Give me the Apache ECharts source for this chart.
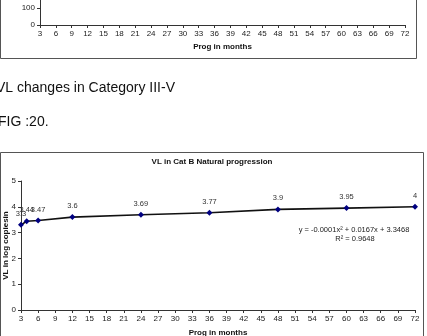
<!DOCTYPE html>
<html><head><meta charset="utf-8">
<script src="https://cdn.jsdelivr.net/npm/echarts@6/dist/echarts.min.js"></script>
<style>html,body{margin:0;padding:0;background:#fff;}#c{width:427px;height:336px;}</style>
</head><body><div id="c"></div>
<script>
// Data
const months = [3, 4, 6, 12, 24, 36, 48, 60, 72];
const vlLog = [3.3, 3.44, 3.47, 3.6, 3.69, 3.77, 3.9, 3.95, 4];
const chartTitle = 'VL in Cat B Natural progression';
const xName = 'Prog in months';
const yName = 'VL in log copiesin';
const trendEq = 'y = -0.0001x\u00B2 + 0.0167x + 3.3468';
const trendR2 = 'R\u00B2 = 0.9648';
const captionA = 'VL changes in Category III-V';
const captionB = 'FIG :20.';

const FF = '"Liberation Sans", Arial, sans-serif';
const axisCol = '#333';
const chart = echarts.init(document.getElementById('c'), null, {renderer: 'canvas'});

const xAxisCommon = {
  type: 'value', min: 3, max: 72, interval: 3,
  axisLine: {lineStyle: {color: axisCol, width: 1}},
  axisTick: {show: true, length: 3, lineStyle: {color: axisCol}},
  axisLabel: {fontFamily: FF, fontSize: 8, color: '#222', margin: 5},
  splitLine: {show: false},
  nameLocation: 'middle', nameMoveOverlap: false,
  nameTextStyle: {fontFamily: FF, fontSize: 8, fontWeight: 'bold', color: '#111'}
};
const yAxisCommon = {
  type: 'value',
  axisLine: {show: true, lineStyle: {color: axisCol, width: 1}},
  axisTick: {show: true, length: 3, lineStyle: {color: axisCol}},
  axisLabel: {fontFamily: FF, fontSize: 8, color: '#222', margin: 5},
  splitLine: {show: false}
};

chart.setOption({
  backgroundColor: '#fff',
  animation: false,
  grid: [
    {left: 40, right: 22, top: 0, height: 25, containLabel: false, outerBoundsMode: 'none'},
    {left: 21, right: 12, top: 181, bottom: 26, containLabel: false, outerBoundsMode: 'none'}
  ],
  xAxis: [
    Object.assign({}, xAxisCommon, {gridIndex: 0, name: xName, nameGap: 18}),
    Object.assign({}, xAxisCommon, {gridIndex: 1, name: xName, nameGap: 19})
  ],
  yAxis: [
    Object.assign({}, yAxisCommon, {gridIndex: 0, min: 0, max: 147, interval: 100,
      axisLabel: Object.assign({}, yAxisCommon.axisLabel, {showMaxLabel: false})}),
    Object.assign({}, yAxisCommon, {gridIndex: 1, min: 0, max: 5, interval: 1,
      name: yName, nameLocation: 'middle', nameGap: 11, nameMoveOverlap: false,
      nameTextStyle: {fontFamily: FF, fontSize: 8, fontWeight: 'bold', color: '#111'}})
  ],
  series: [
    {type: 'scatter', xAxisIndex: 0, yAxisIndex: 0, data: []},
    {
      type: 'line', xAxisIndex: 1, yAxisIndex: 1,
      data: months.map((m, i) => [m, vlLog[i]]),
      symbol: 'diamond', symbolSize: 6,
      itemStyle: {color: '#000080'},
      lineStyle: {color: '#111', width: 1.6},
      label: {show: true, position: 'top', distance: 4,
        fontFamily: FF, fontSize: 7.5, color: '#333',
        formatter: p => String(p.value[1])}
    }
  ],
  graphic: [
    {type: 'rect', shape: {x: 0.5, y: -10, width: 416, height: 68.5}, style: {fill: 'none', stroke: '#555', lineWidth: 1}, silent: true},
    {type: 'rect', shape: {x: 0.5, y: 152.5, width: 423, height: 200}, style: {fill: 'none', stroke: '#555', lineWidth: 1}, silent: true},
    {type: 'text', left: -4, top: 81, style: {text: captionA, fontFamily: FF, fontSize: 14, fill: '#111'}},
    {type: 'text', left: -2, top: 115, style: {text: captionB, fontFamily: FF, fontSize: 14, fill: '#111'}},
    {type: 'text', x: 212, y: 162, style: {text: chartTitle, fontFamily: FF, fontSize: 8, fontWeight: 'bold', fill: '#111', align: 'center', verticalAlign: 'middle'}},
    {type: 'text', x: 354, y: 230, style: {text: trendEq, fontFamily: FF, fontSize: 7.5, fill: '#222', align: 'center', verticalAlign: 'middle'}},
    {type: 'text', x: 355, y: 239, style: {text: trendR2, fontFamily: FF, fontSize: 7.5, fill: '#222', align: 'center', verticalAlign: 'middle'}}
  ]
});
</script></body></html>
